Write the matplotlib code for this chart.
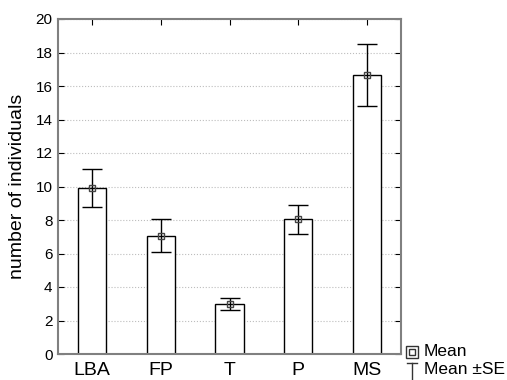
import numpy as np
import matplotlib
matplotlib.use("Agg")
import matplotlib.pyplot as plt
from matplotlib.lines import Line2D
from matplotlib.patches import Rectangle

plt.rcParams['font.family'] = ['Liberation Sans', 'DejaVu Sans']

# data
categories = ['LBA', 'FP', 'T', 'P', 'MS']
means = [9.9, 7.05, 2.97, 8.03, 16.65]
se = [1.14, 0.98, 0.35, 0.85, 1.87]

W, H = 507, 380
fig = plt.figure(figsize=(W / 100, H / 100), dpi=100)
ax = fig.add_axes([58/W, 1 - 354/H, 343/W, 335/H])

x = np.arange(len(categories))
ax.bar(x, means, width=0.41, color='white', edgecolor='black', linewidth=1.0, zorder=2)
ax.errorbar(x, means, yerr=se, fmt='s', ms=5, mfc='none', mec='#444444', mew=1.0,
            ecolor='black', elinewidth=1.0, capsize=7, capthick=1.0, zorder=3)

ax.set_xlim(-0.5, 4.5)
ax.set_ylim(0, 20)
ax.set_yticks(range(0, 21, 2))
ax.set_xticks(x)
ax.set_xticklabels(categories, fontsize=14)
ax.tick_params(axis='y', labelsize=11, direction='in', length=4, right=True, pad=4)
ax.tick_params(axis='x', direction='in', length=4, top=True, pad=6)
ax.set_ylabel('number of individuals', fontsize=14, labelpad=7)

ax.yaxis.grid(True, linestyle=':', color='#bdbdbd', linewidth=0.8, zorder=0)
ax.set_axisbelow(True)
for s in ax.spines.values():
    s.set_color('#808080')
    s.set_linewidth(1.5)

# legend drawn by hand, below right of the plot
def fx(px):
    return px / W

def fy(py):
    return 1 - py / H

fig.add_artist(Rectangle((fx(406), fy(358)), 12 / W, 12 / H, transform=fig.transFigure,
                         fill=False, edgecolor='#333333', linewidth=1.0))
fig.add_artist(Line2D([fx(412)], [fy(352)], marker='s', ms=4, mfc='none', mec='#333333',
                      mew=1.0, linestyle='none', transform=fig.transFigure))
fig.add_artist(Line2D([fx(412), fx(412)], [fy(363), fy(381)], color='#333333', lw=1.0,
                      transform=fig.transFigure))
fig.add_artist(Line2D([fx(407), fx(417)], [fy(363), fy(363)], color='#333333', lw=1.0,
                      transform=fig.transFigure))
fig.text(fx(424), fy(352), 'Mean', fontsize=12.5, va='center', ha='left')
fig.text(fx(424), fy(370), 'Mean ±SE', fontsize=12.5, va='center', ha='left')

fig.savefig('out.png', dpi=100)
